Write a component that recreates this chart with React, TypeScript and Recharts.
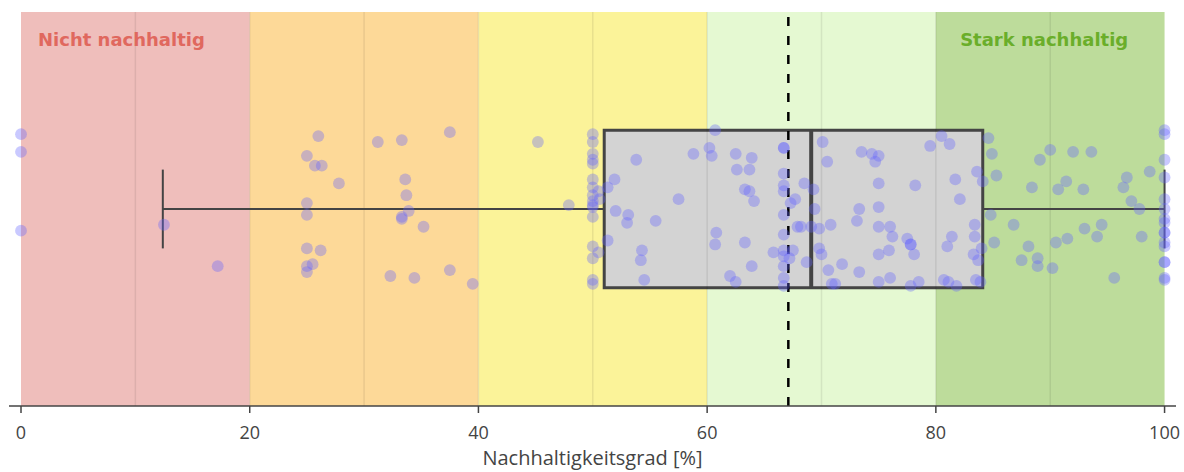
import {
  ComposedChart, Scatter, XAxis, YAxis, ReferenceArea, ReferenceLine,
} from "recharts";

// score per observation (x) and vertical jitter inside the box (y)
const scores = [
  0, 0, 0, 12.5, 17.2,
  26.0, 25.0, 25.7, 26.3, 27.8, 25.0, 25.0, 25.0, 26.2, 25.5, 25.0, 25.0,
  31.2, 33.3, 37.5, 33.6, 33.7, 33.9, 33.3, 33.3, 35.2, 32.3, 34.4, 37.5, 39.5,
  45.2, 47.9,
  50, 50, 50, 50, 50, 50, 50, 50, 50, 50, 50, 50, 50, 50, 50, 50,
  50.5, 50.6, 50.5, 51.3, 51.9, 52.0, 53.1, 53.0, 51.3, 53.8, 55.5, 57.5, 54.3, 54.2, 54.5,
  58.8, 60.2, 60.4, 60.7, 62.5, 63.9, 62.6, 63.7, 63.3, 63.7, 64.1, 60.8, 60.7, 63.3, 63.9, 62.0, 62.5, 65.8,
  66.7, 66.7, 66.7, 66.7, 66.7, 66.7, 66.7, 66.7, 66.7, 66.7, 66.7, 66.7,
  67.3, 67.7, 67.2, 67.5, 67.9, 68.5, 69.3, 69.4, 68.2, 69.1, 69.8, 70.8, 68.7, 69.8, 70.0, 70.6, 71.8, 70.9, 71.2,
  70.1, 70.5, 73.5, 74.4, 75.0, 74.7, 75.0, 78.2, 73.3, 73.1, 75.0, 75.0, 76.0, 76.2, 77.5, 77.8, 77.8, 78.1, 75.0, 75.9,
  73.3, 75.0, 76.0, 77.8, 78.5, 80.7, 81.1, 81.8, 79.5, 80.5, 81.2, 81.7, 82.1, 83.4, 83.4, 81.4, 81.0, 83.3, 83.7, 84.0,
  83.5, 83.9, 83.6, 84.1, 84.6, 84.9, 85.3, 84.8, 85.1,
  90.0, 92.0, 93.6, 89.1, 88.4, 90.7, 91.4, 92.9, 96.7, 96.4, 98.7, 97.1, 97.8, 86.8, 93.0, 94.5, 94.1, 98.0,
  88.1, 90.5, 91.5, 87.5, 88.9, 88.9, 90.2, 95.6,
  100, 100, 100, 100, 100, 100, 100, 100, 100, 100, 100, 100, 100, 100, 100, 100,
];
const jitter = [
  0.38, 0.29, -0.11, -0.08, -0.29,
  0.37, 0.27, 0.22, 0.22, 0.13, 0.03, -0.03, -0.20, -0.21, -0.28, -0.29, -0.32,
  0.34, 0.35, 0.39, 0.15, 0.07, -0.01, -0.04, -0.05, -0.09, -0.34, -0.35, -0.31, -0.38,
  0.34, 0.02,
  0.38, 0.34, 0.28, 0.25, 0.23, 0.15, 0.11, 0.07, 0.04, 0.02, 0.01, -0.04, -0.19, -0.25, -0.36, -0.38,
  0.09, 0.05, -0.22, 0.11, 0.15, -0.01, -0.03, -0.07, -0.16, 0.25, -0.06, 0.05, -0.21, -0.26, -0.36,
  0.28, 0.31, 0.27, 0.40, 0.28, 0.26, 0.20, 0.20, 0.10, 0.09, 0.04, -0.12, -0.18, -0.17, -0.29, -0.34, -0.37, -0.22,
  0.31, 0.31, 0.18, 0.12, 0.09, -0.03, -0.13, -0.21, -0.24, -0.29, -0.35, -0.39,
  0.03, 0.05, -0.25, -0.21, -0.09, 0.13, 0.10, 0.00, -0.09, -0.09, -0.10, -0.08, -0.27, -0.20, -0.23, -0.31, -0.28, -0.38, -0.38,
  0.34, 0.24, 0.29, 0.28, 0.27, 0.24, 0.13, 0.12, 0.00, -0.06, 0.01, -0.09, -0.09, -0.14, -0.15, -0.18, -0.18, -0.23, -0.23, -0.21,
  -0.32, -0.37, -0.35, -0.39, -0.37, -0.36, -0.37, -0.39, 0.32, 0.37, 0.33, 0.15, 0.05, -0.08, -0.14, -0.14, -0.19, -0.23, -0.26, -0.20,
  -0.36, -0.37, 0.19, 0.14, 0.36, 0.28, 0.17, -0.03, -0.17,
  0.30, 0.29, 0.29, 0.25, 0.11, 0.10, 0.14, 0.10, 0.16, 0.11, 0.19, 0.04, 0.00, -0.08, -0.10, -0.08, -0.14, -0.14,
  -0.19, -0.17, -0.15, -0.26, -0.25, -0.29, -0.30, -0.35,
  0.40, 0.38, 0.25, 0.16, 0.05, 0.00, -0.05, -0.07, -0.12, -0.12, -0.17, -0.19, -0.27, -0.27, -0.35, -0.36,
];

// box statistics
const whiskerLow = 12.4;
const q1 = 51.0;
const median = 69.1;
const q3 = 84.1;
const whiskerHigh = 100;
const meanValue = 67.1;

// background bands
const bandEdges = [0, 20, 40, 60, 80, 100];
const bandColors = ["#EFBEBB", "#FDD998", "#FBF399", "#E5F9D2", "#BDDC9B"];
const gridValues = [10, 20, 30, 40, 50, 60, 70, 80, 90];
const xTicks = [0, 20, 40, 60, 80, 100];

const points = scores.map((x, i) => ({ x, y: jitter[i] }));

const FONT = "'Open Sans', sans-serif";
const DARK = "#444444";

export default function App() {
  return (
    <div style={{ position: "absolute", left: 0, top: 0, background: "#fff" }}>
      <ComposedChart
        width={1184}
        height={472}
        data={points}
        margin={{ top: 12, right: 8, bottom: 0, left: 9 }}
      >
        <XAxis
          type="number"
          dataKey="x"
          domain={[-1.05, 101]}
          ticks={xTicks}
          allowDataOverflow
          height={66}
          axisLine={{ stroke: DARK, strokeWidth: 1.5 }}
          tickLine={{ stroke: DARK, strokeWidth: 1.5 }}
          tickSize={7}
          tickMargin={13}
          tick={{ fontSize: 18, fill: DARK, fontFamily: FONT }}
          label={{
            value: "Nachhaltigkeitsgrad [%]",
            position: "insideBottom",
            offset: 7,
            fontSize: 20,
            fill: DARK,
            fontFamily: FONT,
          }}
        />
        <YAxis
          type="number"
          dataKey="y"
          domain={[-1, 1]}
          width={0}
          tick={false}
          tickLine={false}
          axisLine={{ stroke: DARK, strokeWidth: 1.5 }}
        />
        {bandColors.map((c, i) => (
          <ReferenceArea
            key={"band" + i}
            x1={bandEdges[i]}
            x2={bandEdges[i + 1]}
            y1={-1}
            y2={1}
            fill={c}
            fillOpacity={1}
            stroke="none"
            label={
              i === 0
                ? {
                    value: "Nicht nachhaltig",
                    position: "insideTopLeft",
                    offset: 17,
                    dy: 4,
                    fill: "#E0685E",
                    fontSize: 18,
                    fontWeight: "bold",
                    fontFamily: "'DejaVu Sans', sans-serif",
                  }
                : i === 4
                ? {
                    value: "Stark nachhaltig",
                    position: "insideTop",
                    offset: 17,
                    dy: 4,
                    dx: -6,
                    fill: "#6AAE2A",
                    fontSize: 18,
                    fontWeight: "bold",
                    fontFamily: "'DejaVu Sans', sans-serif",
                  }
                : undefined
            }
          />
        ))}
        {gridValues.map((g) => (
          <ReferenceLine
            key={"grid" + g}
            segment={[{ x: g, y: -1 }, { x: g, y: 1 }]}
            stroke="#000"
            strokeOpacity={0.08}
            strokeWidth={1.5}
          />
        ))}
        <ReferenceLine
          segment={[{ x: whiskerLow, y: 0 }, { x: q1, y: 0 }]}
          stroke={DARK}
          strokeWidth={2}
        />
        <ReferenceLine
          segment={[{ x: q3, y: 0 }, { x: whiskerHigh, y: 0 }]}
          stroke={DARK}
          strokeWidth={2}
        />
        <ReferenceLine
          segment={[{ x: whiskerLow, y: -0.2 }, { x: whiskerLow, y: 0.2 }]}
          stroke={DARK}
          strokeWidth={2}
        />
        <ReferenceLine
          segment={[{ x: whiskerHigh, y: -0.2 }, { x: whiskerHigh, y: 0.2 }]}
          stroke={DARK}
          strokeWidth={2}
        />
        <ReferenceArea
          x1={q1}
          x2={q3}
          y1={-0.4}
          y2={0.4}
          fill="#D3D3D3"
          fillOpacity={1}
          stroke={DARK}
          strokeWidth={3}
        />
        <ReferenceLine
          segment={[{ x: median, y: -0.4 }, { x: median, y: 0.4 }]}
          stroke={DARK}
          strokeWidth={4}
        />
        <Scatter
          dataKey="y"
          fill="#6464FF"
          fillOpacity={0.35}
          isAnimationActive={false}
          shape={(p: any) => (
            <circle cx={p.cx} cy={p.cy} r={5.9} fill="#6464FF" fillOpacity={0.35} />
          )}
        />
        <ReferenceLine
          x={meanValue}
          stroke="#000"
          strokeWidth={2.5}
          strokeDasharray="9 10"
        />
      </ComposedChart>
    </div>
  );
}
